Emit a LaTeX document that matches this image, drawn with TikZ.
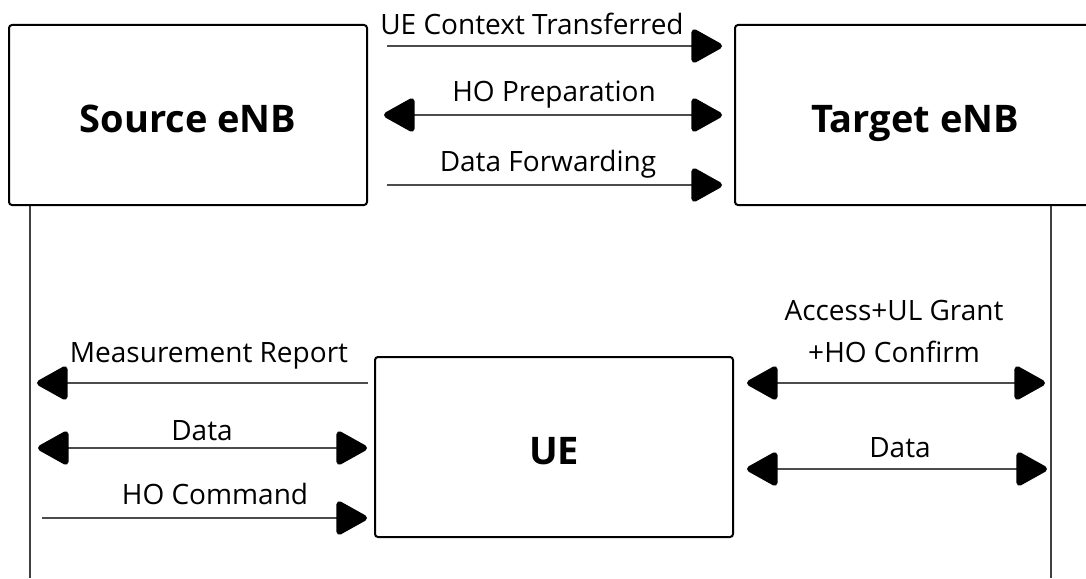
\documentclass[tikz,border=0pt]{standalone}
\usepackage{fontspec}
\setmainfont{Open Sans}
\usetikzlibrary{arrows.meta}

\tikzset{
	box/.style={draw,line width=2pt,rounded corners=3pt,minimum width=358pt,minimum height=180pt,text height=34pt,text depth=0pt,font=\fontsize{38}{44}\selectfont\bfseries},
	msg/.style={draw=black!70,line width=1.4pt},
	lbl/.style={anchor=base,inner sep=0pt,font=\fontsize{28}{34}\selectfont},
	life/.style={draw=black!75,line width=1.3pt},
	>={Triangle[length=34pt,width=36pt,round,line width=6pt,color=black]}
}

\begin{document}
\begin{tikzpicture}[x=1pt,y=-1pt]
			% LTE Handover
			\useasboundingbox (0,0) rectangle (1086,578);
			\clip (0,0) rectangle (1086,578);
			\node[box] (Source) at (188,115) {Source eNB};
			\node[box,minimum width=360pt] (Target) at (915,115) {Target eNB};
			\node[box] (UE) at (554,447) {UE};
			
			\coordinate (SourceLife) at (30,578);
			\coordinate (TargetLife) at (1051,578);
			\draw[life] (Source.south -| SourceLife) -- (SourceLife);
			\draw[life] (Target.south -| TargetLife) -- (TargetLife);
			
			\coordinate (CtxA) at (387,46);
			\coordinate (CtxB) at (722,46);
			\coordinate (PrepA) at (384,115);
			\coordinate (PrepB) at (722,115);
			\coordinate (FwdA) at (387,185);
			\coordinate (FwdB) at (722,185);
			\draw[msg,->] (CtxA) to (CtxB);
			\draw[msg,<->] (PrepA) to (PrepB);
			\draw[msg,->] (FwdA) to (FwdB);
			\node[lbl] (CtxLabel) at (532,35) {UE Context Transferred};
			\node[lbl] (PrepLabel) at (554,101) {HO Preparation};
			\node[lbl] (FwdLabel) at (548,171) {Data Forwarding};
			
			\coordinate (MeasA) at (368,383);
			\coordinate (MeasB) at (37,383);
			\coordinate (DataA) at (38,448);
			\coordinate (DataB) at (367,448);
			\coordinate (CmdA) at (42,518);
			\coordinate (CmdB) at (367,518);
			\draw[msg,->] (MeasA) to (MeasB);
			\draw[msg,<->] (DataA) to (DataB);
			\draw[msg,->] (CmdA) to (CmdB);
			\node[lbl] (MeasLabel) at (209,362) {Measurement Report};
			\node[lbl] (DataLabel) at (202,440) {Data};
			\node[lbl] (CmdLabel) at (215,504) {HO Command};
			
			\coordinate (AccA) at (747,383);
			\coordinate (AccB) at (1045,383);
			\coordinate (UeDataA) at (747,469);
			\coordinate (UeDataB) at (1047,469);
			\draw[msg,<->] (AccA) to (AccB);
			\draw[msg,<->] (UeDataA) to (UeDataB);
			\node[lbl] (AccLabel) at (894,320) {Access+UL Grant};
			\node[lbl] (ConfLabel) at (894,362) {+HO Confirm};
			\node[lbl] (UeDataLabel) at (900,457) {Data};
			
			\end{tikzpicture}
\end{document}
